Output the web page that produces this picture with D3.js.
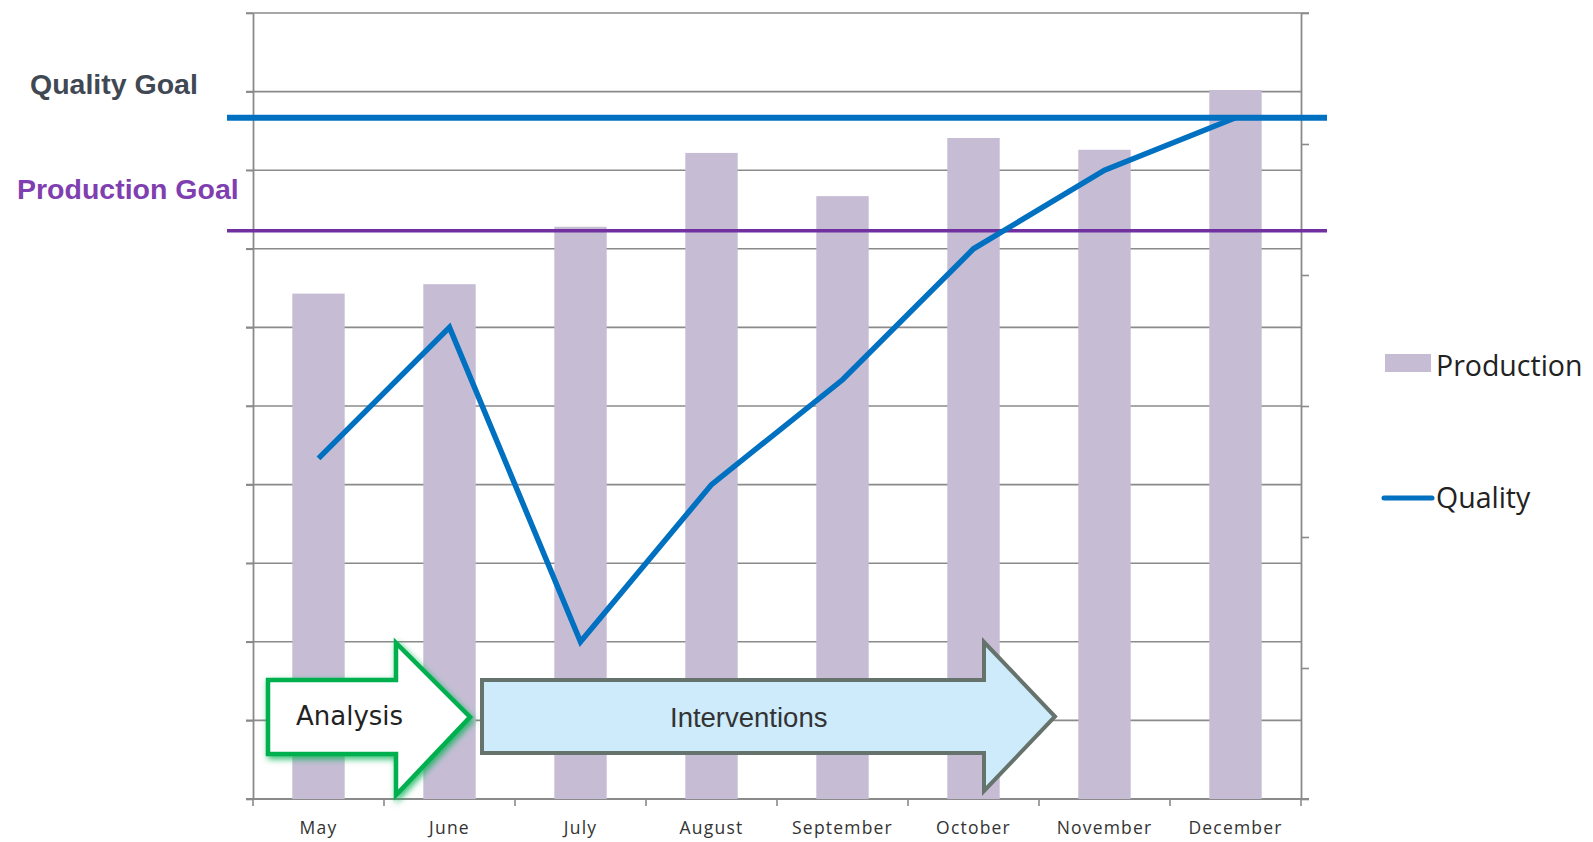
<!DOCTYPE html>
<html>
<head>
<meta charset="utf-8">
<script src="https://cdn.jsdelivr.net/npm/d3@7"></script>
<style>
  html, body { margin: 0; padding: 0; background: #fff; }
  svg { display: block; }
</style>
</head>
<body>
<svg id="chart" width="1593" height="842"></svg>
<script>
// data
const months = ["May", "June", "July", "August", "September", "October", "November", "December"]
const production = [64.3, 65.5, 72.8, 82.2, 76.7, 84.1, 82.6, 90.2]
const quality = [52, 72, 24, 48, 64, 84, 96, 104]
const productionGoal = 72.3
const qualityGoal = 104

const svg = d3.select("#chart"),
    plotLeft = 253, plotRight = 1301, plotTop = 13, plotBottom = 799;

const x = d3.scaleBand().domain(months).range([plotLeft, plotRight]).padding(0);
const yL = d3.scaleLinear().domain([0, 100]).range([plotBottom, plotTop]);
const yR = d3.scaleLinear().domain([0, 120]).range([plotBottom, plotTop]);

const gridColor = "#8a8a8a";

// horizontal gridlines (left scale)
svg.append("g")
  .selectAll("line")
  .data(yL.ticks(10))
  .join("line")
    .attr("x1", plotLeft - 7)
    .attr("x2", d => d === 100 ? plotRight + 8 : plotRight)
    .attr("y1", d => yL(d))
    .attr("y2", d => yL(d))
    .attr("stroke", gridColor)
    .attr("stroke-width", 1.6);

// left axis
const gl = svg.append("g")
  .attr("transform", `translate(${plotLeft},0)`)
  .call(d3.axisLeft(yL).ticks(10).tickSize(7).tickSizeOuter(0).tickFormat(""));

// right axis
const gr = svg.append("g")
  .attr("transform", `translate(${plotRight},0)`)
  .call(d3.axisRight(yR).ticks(6).tickSize(8).tickSizeOuter(0).tickFormat(""));

// bottom axis: ticks at category boundaries
const gb = svg.append("g")
  .attr("transform", `translate(0,${plotBottom})`)
  .call(d3.axisBottom(x).tickSize(0).tickPadding(23));

gb.selectAll(".tick text")
  .attr("font-family", "Open Sans, sans-serif")
  .attr("font-size", 17.5)
  .attr("letter-spacing", 1.2)
  .attr("fill", "#333");

gb.append("g")
  .selectAll("line")
  .data(months.map(m => x(m)).concat([plotRight]))
  .join("line")
    .attr("x1", d => d).attr("x2", d => d)
    .attr("y1", 0).attr("y2", 7)
    .attr("stroke", gridColor)
    .attr("stroke-width", 1.6);

[gl, gr, gb].forEach(g => {
  g.selectAll(".domain").attr("stroke", gridColor).attr("stroke-width", 1.8);
  g.selectAll(".tick line").attr("stroke", gridColor).attr("stroke-width", 1.6);
});
gb.select(".domain").attr("d", `M${plotLeft - 7},0H${plotRight + 8}`);

// bars
const bw = x.bandwidth() * 0.4;
svg.append("g")
  .selectAll("rect")
  .data(production)
  .join("rect")
    .attr("x", (d, i) => x(months[i]) + (x.bandwidth() - bw) / 2)
    .attr("y", d => yL(d))
    .attr("width", bw)
    .attr("height", d => yL(0) - yL(d))
    .attr("fill", "#c6bdd5");

// goal lines
svg.append("line")
  .attr("x1", 227).attr("x2", 1327)
  .attr("y1", yR(qualityGoal)).attr("y2", yR(qualityGoal))
  .attr("stroke", "#0070c0").attr("stroke-width", 6);

svg.append("line")
  .attr("x1", 227).attr("x2", 1327)
  .attr("y1", yL(productionGoal)).attr("y2", yL(productionGoal))
  .attr("stroke", "#7030a0").attr("stroke-width", 3.5);

// quality line
const line = d3.line()
  .x((d, i) => x(months[i]) + x.bandwidth() / 2)
  .y(d => yR(d));

svg.append("path")
  .datum(quality)
  .attr("d", line)
  .attr("fill", "none")
  .attr("stroke", "#0070c0")
  .attr("stroke-width", 5.5)
  .attr("stroke-linejoin", "miter");

// goal labels
svg.append("text")
  .attr("x", 30).attr("y", 94)
  .attr("font-family", "Liberation Sans, Arial, sans-serif")
  .attr("font-weight", "bold")
  .attr("font-size", 28.5)
  .attr("fill", "#3f4853")
  .text("Quality Goal");

svg.append("text")
  .attr("x", 17).attr("y", 199)
  .attr("font-family", "Liberation Sans, Arial, sans-serif")
  .attr("font-weight", "bold")
  .attr("font-size", 28.5)
  .attr("fill", "#7f3fb0")
  .text("Production Goal");

// block arrows
const defs = svg.append("defs");
defs.append("filter")
  .attr("id", "glow")
  .attr("x", "-10%").attr("y", "-10%").attr("width", "130%").attr("height", "130%")
  .append("feDropShadow")
    .attr("dx", 2).attr("dy", 3).attr("stdDeviation", 3)
    .attr("flood-color", "#00b050").attr("flood-opacity", 0.8);

function arrow(x0, x1, xt, yTop, yBot, hTop, hBot) {
  const ym = (yTop + yBot) / 2;
  return `M${x0},${yTop}H${x1}V${hTop}L${xt},${ym}L${x1},${hBot}V${yBot}H${x0}Z`;
}

svg.append("path")
  .attr("d", arrow(268, 396, 470, 680, 754, 643, 795))
  .attr("fill", "#fff")
  .attr("stroke", "#00b050")
  .attr("stroke-width", 4.5)
  .attr("filter", "url(#glow)");

svg.append("text")
  .attr("x", 296).attr("y", 725)
  .attr("font-family", "DejaVu Sans, sans-serif")
  .attr("font-size", 26)
  .attr("fill", "#222")
  .text("Analysis");

svg.append("path")
  .attr("d", arrow(482, 984, 1055, 680, 753, 642, 791))
  .attr("fill", "#cdebfb")
  .attr("stroke", "#66736c")
  .attr("stroke-width", 4);

svg.append("text")
  .attr("x", 670).attr("y", 727)
  .attr("font-family", "Liberation Sans, Arial, sans-serif")
  .attr("font-size", 27.5)
  .attr("fill", "#333")
  .text("Interventions");

// legend
const legend = svg.append("g").attr("font-family", "Open Sans, sans-serif").attr("font-size", 28.5).attr("fill", "#222");
legend.append("rect")
  .attr("x", 1385).attr("y", 354).attr("width", 46).attr("height", 18)
  .attr("fill", "#c6bdd5");
legend.append("text").attr("x", 1436).attr("y", 376).text("Production");
legend.append("line")
  .attr("x1", 1384).attr("x2", 1432).attr("y1", 498).attr("y2", 498)
  .attr("stroke", "#0070c0").attr("stroke-width", 5).attr("stroke-linecap", "round");
legend.append("text").attr("x", 1436).attr("y", 508).text("Quality");
</script>
</body>
</html>
